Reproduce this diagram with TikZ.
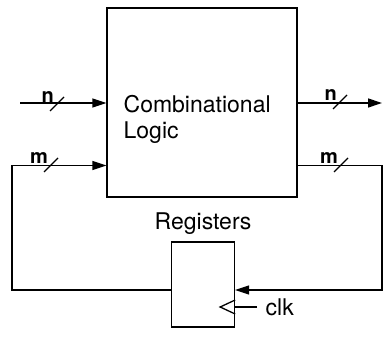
\documentclass[tikz,border=0pt]{standalone}
\usepackage{fontspec}
\setmainfont{TeX Gyre Heros}
\usetikzlibrary{arrows.meta,positioning,calc}

\begin{document}
\begin{tikzpicture}[x=1pt, y=-1pt, >={Triangle[length=14pt,width=9pt]}, line width=1.3pt]
  \tikzstyle{block}=[rectangle, draw, minimum width=190pt, minimum height=189pt, inner sep=0pt]
  \tikzstyle{regbox}=[rectangle, draw, minimum width=63pt, minimum height=85pt, inner sep=0pt]
  \tikzstyle{txt}=[font=\fontsize{23}{26}\selectfont, align=left, inner sep=0pt]
  \tikzstyle{bus}=[font=\fontsize{20}{20}\selectfont\bfseries, inner sep=0.5pt, anchor=south east]
  \useasboundingbox (0,0) rectangle (383,339);
  % blocks
  \node[block] (comb) at (202,102.5) {};
  \node[txt, anchor=north west] (combtxt) at (123,95) {Combinational\\Logic};
  \node[regbox] (regs) at (203,284.5) {};
  \node[txt, above=6pt of regs] (regtxt) {Registers};
  \node[txt, anchor=west] (clk) at (265,307) {clk};
  % wire ends
  \coordinate (nin) at (20,103);
  \coordinate (nout) at (382,103);
  \coordinate (mleft) at (12,165.5);
  \coordinate (mright) at (382,165.5);
  \coordinate (fb) at (0,290);
  % inputs and outputs
  \draw[->] (nin) -- (comb.west |- nin);
  \draw[->] (comb.east |- nout) -- (nout);
  % state loop
  \draw[->] (regs.west |- fb) -| (mleft) -- (comb.west |- mleft);
  \draw[->] (comb.east |- mright) -| (mright |- fb) -- (regs.east |- fb);
  % clock input
  \draw (regs.east |- clk.west) ++(0,-7) -- ++(-15,7) -- ++(15,7);
  \draw ([xshift=-8pt]clk.west) -- (regs.east |- clk.west);
  % bus widths
  \foreach \x/\y/\t in {57/104/n, 51/165/m, 340/102/n, 341/165/m} {
    \draw (\x,\y) ++(-7,7) -- ++(14,-14);
    \node[bus] (bus\x) at ([xshift=-2pt]\x,\y) {\t};
  }
\end{tikzpicture}
\end{document}
